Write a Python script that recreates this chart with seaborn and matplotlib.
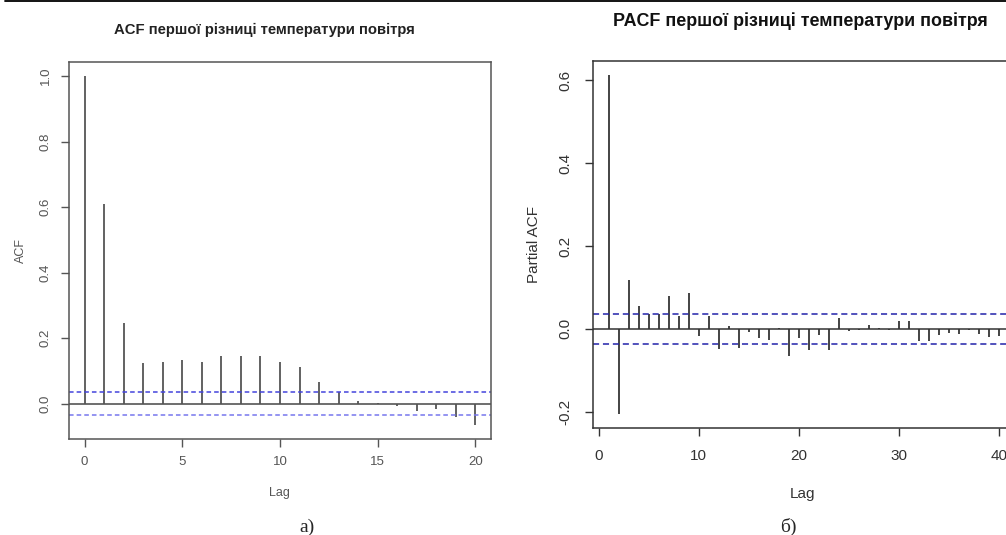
import matplotlib
matplotlib.use("Agg")
import matplotlib.pyplot as plt
import seaborn as sns
import numpy as np
import pandas as pd

# ACF of first difference (lags 0..20)
acf_lags = list(range(0, 21))
acf_vals = [1.0, 0.61, 0.245, 0.125, 0.128, 0.133, 0.126, 0.145, 0.144, 0.145,
            0.128, 0.113, 0.066, 0.037, 0.009, 0.002, -0.008, -0.021, -0.016,
            -0.040, -0.065]
acf_ci = 0.036

# PACF of first difference (lags 1..40)
pacf_lags = list(range(1, 41))
pacf_vals = [0.612, -0.205, 0.119, 0.055, 0.035, 0.037, 0.079, 0.031, 0.087, -0.016,
             0.031, -0.048, 0.006, -0.046, -0.008, -0.022, -0.026, 0.001, -0.066, -0.022,
             -0.051, -0.014, -0.051, 0.027, -0.004, -0.003, 0.010, 0.001, -0.002, 0.020,
             0.018, -0.030, -0.030, -0.014, -0.010, -0.012, -0.003, -0.012, -0.020, -0.018]
pacf_ci = 0.0365

acf_df = pd.DataFrame({"lag": acf_lags, "acf": acf_vals})
pacf_df = pd.DataFrame({"lag": pacf_lags, "pacf": pacf_vals})

sns.set_theme(style="white")
plt.rcParams["font.family"] = ["Liberation Sans", "DejaVu Sans"]

W, H = 1006, 535
fig = plt.figure(figsize=(W / 100, H / 100), dpi=100)


def px_axes(x0, y0, x1, y1):
    return fig.add_axes([x0 / W, 1 - y1 / H, (x1 - x0) / W, (y1 - y0) / H])


def r_style(ax, col, fs, pad):
    for s in ax.spines.values():
        s.set_color(col)
        s.set_linewidth(1.1)
    ax.tick_params(axis="both", direction="out", length=6, width=1.0, color=col,
                   labelcolor=col, labelsize=fs, pad=pad, bottom=True, left=True)
    for lab in ax.get_yticklabels():
        lab.set_rotation(90)
        lab.set_va("center")


# ---- left: ACF ----
ax1 = px_axes(69, 62, 491, 439)
ax1.vlines(acf_df["lag"], 0, acf_df["acf"], color="#555555", lw=1.3)
ax1.axhline(0, color="#555555", lw=1.2)
ax1.axhline(acf_ci, color="#4444dd", lw=1.1, ls=(0, (3, 2)))
ax1.axhline(-acf_ci, color="#7777ee", lw=1.1, ls=(0, (3, 2)))
ax1.set_xlim(-0.8, 20.8)
ax1.set_ylim(-0.108, 1.043)
ax1.set_xticks([0, 5, 10, 15, 20])
ax1.set_yticks([0.0, 0.2, 0.4, 0.6, 0.8, 1.0])
ax1.set_yticklabels(["0.0", "0.2", "0.4", "0.6", "0.8", "1.0"])
r_style(ax1, "#555555", 9.5, 6.5)
ax1.set_xlabel("Lag", fontsize=9, color="#555555")
ax1.set_ylabel("ACF", fontsize=9, color="#555555")
ax1.xaxis.set_label_coords(0.498, -0.127)
ax1.yaxis.set_label_coords(-0.100, 0.5)
fig.text(264 / W, 1 - 30 / H, "ACF першої різниці температури повітря",
         ha="center", va="center", fontsize=10.7, fontweight="bold", color="#222222")

# ---- right: PACF ----
ax2 = px_axes(593, 61, 1014.6, 428)
ax2.vlines(pacf_df["lag"], 0, pacf_df["pacf"], color="#111111", lw=1.1)
ax2.axhline(0, color="#333333", lw=1.1)
ax2.axhline(pacf_ci, color="#2222aa", lw=1.1, ls=(0, (4, 2.5)))
ax2.axhline(-pacf_ci, color="#2222aa", lw=1.1, ls=(0, (4, 2.5)))
ax2.set_xlim(-0.56, 41.56)
ax2.set_ylim(-0.239, 0.646)
ax2.set_xticks([0, 10, 20, 30, 40])
ax2.set_yticks([-0.2, 0.0, 0.2, 0.4, 0.6])
ax2.set_yticklabels(["-0.2", "0.0", "0.2", "0.4", "0.6"])
r_style(ax2, "#333333", 11, 9)
ax2.set_xlabel("Lag", fontsize=11, color="#333333")
ax2.set_ylabel("Partial ACF", fontsize=11, color="#333333")
ax2.xaxis.set_label_coords(0.496, -0.161)
ax2.yaxis.set_label_coords(-0.123, 0.5)
fig.text(800 / W, 1 - 21 / H, "PACF першої різниці температури повітря",
         ha="center", va="center", fontsize=12.85, fontweight="bold", color="#111111")

# panel captions
fig.text(307 / W, 1 - 527 / H, "а)", ha="center", va="center", fontsize=14,
         family=["Liberation Serif", "DejaVu Serif"])
fig.text(788 / W, 1 - 527 / H, "б)", ha="center", va="center", fontsize=14,
         family=["Liberation Serif", "DejaVu Serif"])

# top border line from the source page
fig.add_artist(plt.Line2D([5 / W, 1.0], [1 - 1.2 / H, 1 - 1.2 / H], color="black", lw=1.3))

fig.savefig("out.png", dpi=100)
